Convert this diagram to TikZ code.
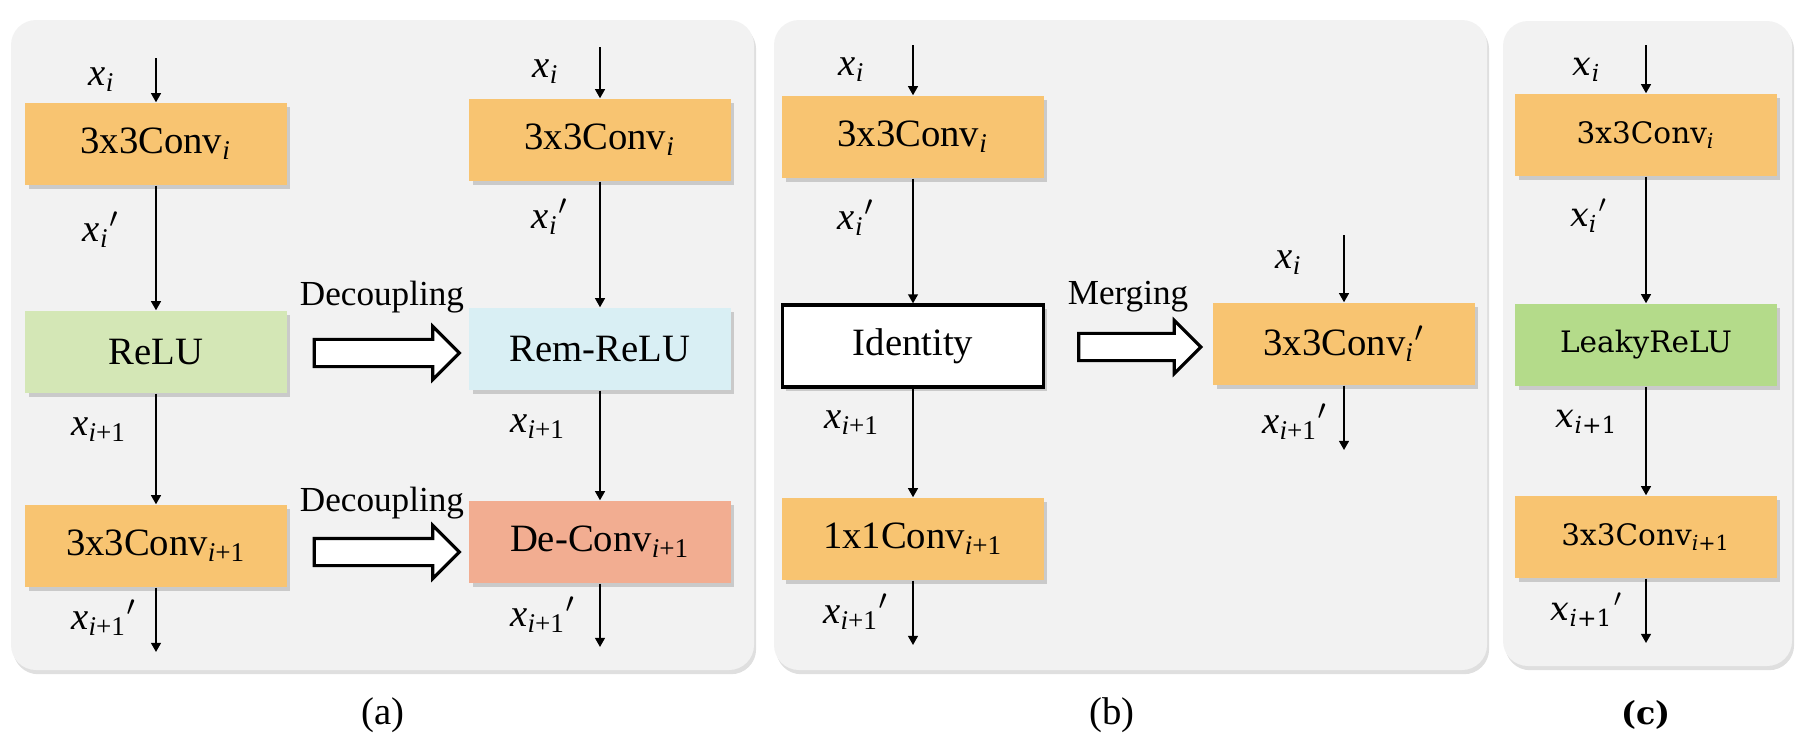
\documentclass[tikz,border=0pt]{standalone}
\usepackage{fontspec}
\setmainfont{Liberation Serif}
\newfontfamily\cfont{DejaVu Serif}
\usetikzlibrary{arrows.meta,shapes.arrows,shadows}

\definecolor{convorange}{HTML}{F8C471}
\definecolor{relugreen}{HTML}{D4E7B6}
\definecolor{remblue}{HTML}{D9EFF4}
\definecolor{desalmon}{HTML}{F2AD91}
\definecolor{leakygreen}{HTML}{B4DB8A}
\definecolor{panelgray}{HTML}{F2F2F2}

\newcommand{\xs}[1]{\textit{x}\textsubscript{#1}}
\newcommand{\ii}{\textit{i}}
\newcommand{\ip}{\textit{i}+1}

\tikzset{
  panel/.style={fill=panelgray, rounded corners=0.25cm,
    drop shadow={shadow xshift=0.6pt, shadow yshift=-1.2pt, opacity=0.25}},
  block/.style={rectangle, minimum width=2.61cm, minimum height=0.82cm, inner sep=0pt,
    font=\fontsize{11}{13}\selectfont,
    drop shadow={shadow xshift=1.1pt, shadow yshift=-1.1pt, opacity=0.35}},
  cblock/.style={block, font=\cfont\fontsize{8.4}{10}\selectfont},
  flow/.style={-{Triangle[length=2.6pt,width=2.8pt]}, line width=0.5pt},
  lab/.style={font=\fontsize{11}{13}\selectfont, inner sep=0pt},
  clab/.style={font=\cfont\fontsize{9.5}{11}\selectfont, inner sep=0pt},
  hollow/.style={single arrow, draw=black, fill=white, line width=0.9pt,
    minimum width=0.5cm, minimum height=1.45cm, inner sep=0.12cm,
    single arrow head extend=0.13cm},
  opname/.style={font=\fontsize{10}{12}\selectfont, inner sep=0pt}
}

\begin{document}
\begin{tikzpicture}[x=0.01cm, y=-0.01cm]
  \useasboundingbox (0,0) rectangle (1802,736);
  % background panels
  \fill[panel] (11,20) rectangle (754,670);
  \fill[panel] (774,20) rectangle (1487,670);
  \fill[panel] (1503,21) rectangle (1792,666);

  % (a) original block
  \node[block, fill=convorange] (convA1) at (156,144) {3x3Conv\textsubscript{\ii}};
  \node[block, fill=relugreen] (reluA) at (156,352) {ReLU};
  \node[block, fill=convorange] (convA2) at (156,546) {3x3Conv\textsubscript{\ip}};
  \coordinate (inA1) at (156,58);
  \coordinate (outA1) at (156,652);
  \draw[flow] (inA1) -- (convA1);
  \draw[flow] (convA1) -- (reluA);
  \draw[flow] (reluA) -- (convA2);
  \draw[flow] (convA2) -- (outA1);
  \node[lab] (xA1) at (102,80) {\xs{\ii}};
  \node[lab] (xA2) at (101,230) {\xs{\ii}$'$};
  \node[lab] (xA3) at (99,430) {\xs{\ip}};
  \node[lab] (xA4) at (104,618) {\xs{\ip}$'$};

  % (a) decoupled block
  \node[block, fill=convorange] (convA3) at (600,140) {3x3Conv\textsubscript{\ii}};
  \node[block, fill=remblue] (remA) at (600,349) {Rem-ReLU};
  \node[block, fill=desalmon] (deA) at (600,542) {De-Conv\textsubscript{\ip}};
  \coordinate (inA2) at (600,47);
  \coordinate (outA2) at (600,647);
  \draw[flow] (inA2) -- (convA3);
  \draw[flow] (convA3) -- (remA);
  \draw[flow] (remA) -- (deA);
  \draw[flow] (deA) -- (outA2);
  \node[lab] (xA5) at (546,72) {\xs{\ii}};
  \node[lab] (xA6) at (550,217) {\xs{\ii}$'$};
  \node[lab] (xA7) at (538,427) {\xs{\ip}};
  \node[lab] (xA8) at (543,615) {\xs{\ip}$'$};

  \node[hollow] (decA1) at (380,353) {};
  \node[opname] (decT1) at (382,297) {Decoupling};
  \node[hollow] (decA2) at (380,552) {};
  \node[opname] (decT2) at (382,503) {Decoupling};

  % (b) merging
  \node[block, fill=convorange] (convB1) at (913,137) {3x3Conv\textsubscript{\ii}};
  \node[block, fill=white, draw=black, line width=0.9pt] (idB) at (913,346) {Identity};
  \node[block, fill=convorange] (convB2) at (913,539) {1x1Conv\textsubscript{\ip}};
  \coordinate (inB1) at (913,45);
  \coordinate (outB1) at (913,645);
  \draw[flow] (inB1) -- (convB1);
  \draw[flow] (convB1) -- (idB);
  \draw[flow] (idB) -- (convB2);
  \draw[flow] (convB2) -- (outB1);
  \node[lab] (xB1) at (852,70) {\xs{\ii}};
  \node[lab] (xB2) at (856,218) {\xs{\ii}$'$};
  \node[lab] (xB3) at (852,423) {\xs{\ip}};
  \node[lab] (xB4) at (856,612) {\xs{\ip}$'$};

  \node[block, fill=convorange] (convB3) at (1344,344) {3x3Conv\textsubscript{\ii}$'$};
  \coordinate (inB2) at (1344,235);
  \coordinate (outB2) at (1344,450);
  \draw[flow] (inB2) -- (convB3);
  \draw[flow] (convB3) -- (outB2);
  \node[lab] (xB5) at (1289,263) {\xs{\ii}};
  \node[lab] (xB6) at (1295,422) {\xs{\ip}$'$};

  \node[hollow, minimum height=1.22cm] (mrgA) at (1133,347) {};
  \node[opname] (mrgT) at (1128,297) {Merging};

  % (c) LeakyReLU block
  \node[cblock, fill=convorange] (convC1) at (1646,135) {3x3Conv\textsubscript{\ii}};
  \node[cblock, fill=leakygreen] (leakyC) at (1646,345) {LeakyReLU};
  \node[cblock, fill=convorange] (convC2) at (1646,537) {3x3Conv\textsubscript{\ip}};
  \coordinate (inC) at (1646,45);
  \coordinate (outC) at (1646,643);
  \draw[flow] (inC) -- (convC1);
  \draw[flow] (convC1) -- (leakyC);
  \draw[flow] (leakyC) -- (convC2);
  \draw[flow] (convC2) -- (outC);
  \node[clab] (xC1) at (1587,70) {\xs{\ii}};
  \node[clab] (xC2) at (1589,216) {\xs{\ii}$'$};
  \node[clab] (xC3) at (1587,422) {\xs{\ip}};
  \node[clab] (xC4) at (1587,610) {\xs{\ip}$'$};

  % captions
  \node[font=\fontsize{11}{13}\selectfont] (capA) at (383,715) {(a)};
  \node[font=\fontsize{11}{13}\selectfont] (capB) at (1112,715) {(b)};
  \node[font=\cfont\bfseries\fontsize{9}{11}\selectfont] (capC) at (1646,715) {(c)};
\end{tikzpicture}
\end{document}
